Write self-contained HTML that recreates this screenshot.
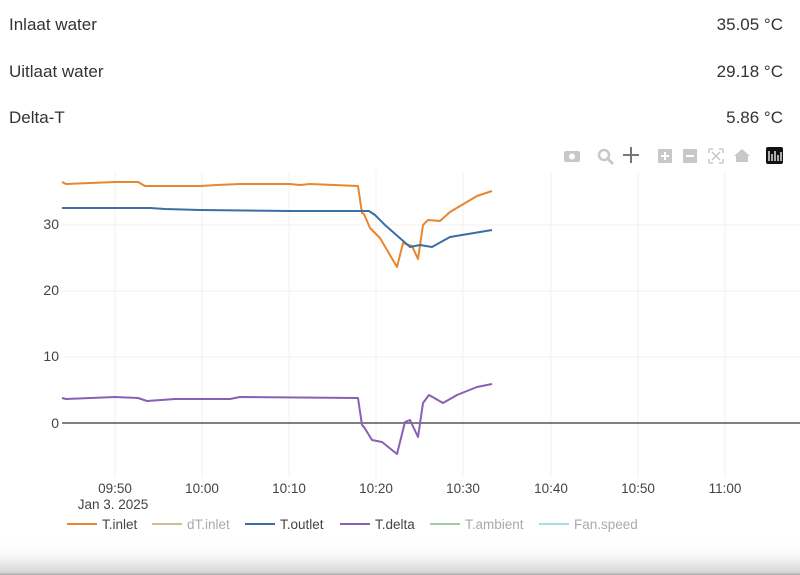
<!DOCTYPE html>
<html><head><meta charset="utf-8"><style>
body{margin:0;width:800px;height:575px;overflow:hidden;background:#fff;font-family:"Liberation Sans",sans-serif;position:relative}
.row{position:absolute;left:9px;right:17px;font-size:17px;color:#333;display:flex;justify-content:space-between}
.shadow{position:absolute;left:0;right:0;top:540px;height:35px;background:linear-gradient(#fff,#fafafa 40%,#d8d8d8 92%,#aaa)}
</style></head><body>
<div class="row" style="top:15px"><span>Inlaat water</span><span>35.05 °C</span></div>
<div class="row" style="top:62px"><span>Uitlaat water</span><span>29.18 °C</span></div>
<div class="row" style="top:108px"><span>Delta-T</span><span>5.86 °C</span></div>
<svg width="800" height="575" style="position:absolute;left:0;top:0" font-family="Liberation Sans, sans-serif">
<g stroke="#f0f0f0" stroke-width="1">
<line x1="115" y1="172" x2="115" y2="478"/><line x1="202" y1="172" x2="202" y2="478"/><line x1="289" y1="172" x2="289" y2="478"/><line x1="376" y1="172" x2="376" y2="478"/><line x1="463" y1="172" x2="463" y2="478"/><line x1="551" y1="172" x2="551" y2="478"/><line x1="638" y1="172" x2="638" y2="478"/><line x1="725" y1="172" x2="725" y2="478"/>
<line x1="62" y1="225" x2="800" y2="225"/><line x1="62" y1="291" x2="800" y2="291"/><line x1="62" y1="357" x2="800" y2="357"/>
</g>
<line x1="62" y1="423" x2="800" y2="423" stroke="#555" stroke-width="1.5"/>
<g font-size="14" fill="#444" text-anchor="end">
<text x="59" y="229">30</text><text x="59" y="295">20</text><text x="59" y="361">10</text><text x="59" y="428">0</text>
</g>
<g font-size="13.5" fill="#444" text-anchor="middle">
<text x="115" y="493">09:50</text><text x="202" y="493">10:00</text><text x="289" y="493">10:10</text><text x="376" y="493">10:20</text><text x="463" y="493">10:30</text><text x="551" y="493">10:40</text><text x="638" y="493">10:50</text><text x="725" y="493">11:00</text>
<text x="113" y="509">Jan 3. 2025</text>
</g>
<g fill="none" stroke-width="2" stroke-linejoin="round">
<polyline stroke="#e8862e" points="62,182 66,184 115,182 138,182 145,186 200,186 217,185 240,184 290,184 300,185 310,184 358,186 362,213 364,214 370,228 380,238 397,267 403,243 412,246 418,259 423,225 428,220 440,221 450,212 477,196 492,191"/>
<polyline stroke="#3a6ea5" points="62,208 150,208 165,209 200,210 290,211 369,211 375,215 385,225 410,247 420,245 432,247 450,237 492,230"/>
<polyline stroke="#8660b4" points="62,398 66,399 115,397 138,398 147,401 175,399 230,399 240,397 358,398 362,425 364,427 372,440 382,442 397,454 405,422 410,420 418,437 423,403 429,395 443,403 457,395 477,387 492,384"/>
</g>
<g font-size="13.5">
<line x1="67" y1="524" x2="97" y2="524" stroke="#e8862e" stroke-width="2"/><text x="102" y="529" fill="#444">T.inlet</text>
<line x1="152" y1="524" x2="182" y2="524" stroke="#d4b89a" stroke-width="2"/><text x="187" y="529" fill="#aaa">dT.inlet</text>
<line x1="245" y1="524" x2="275" y2="524" stroke="#3a6ea5" stroke-width="2"/><text x="280" y="529" fill="#444">T.outlet</text>
<line x1="340" y1="524" x2="370" y2="524" stroke="#8660b4" stroke-width="2"/><text x="375" y="529" fill="#444">T.delta</text>
<line x1="430" y1="524" x2="460" y2="524" stroke="#9fd09a" stroke-width="2"/><text x="465" y="529" fill="#aaa">T.ambient</text>
<line x1="539" y1="524" x2="569" y2="524" stroke="#a8dbe8" stroke-width="2"/><text x="574" y="529" fill="#aaa">Fan.speed</text>
</g>
<g fill="#c8c8c8">
<rect x="564" y="151" width="16" height="11" rx="2"/><circle cx="572" cy="156.5" r="3" fill="#fff"/>
<circle cx="604" cy="155" r="5" fill="none" stroke="#c8c8c8" stroke-width="2.5"/><line x1="608" y1="159" x2="613" y2="164" stroke="#c8c8c8" stroke-width="3"/>
<path d="M631 147v16M623 155h16" stroke="#777" stroke-width="2"/>
<rect x="658" y="149" width="14" height="14"/><path d="M661 156h8M665 152v8" stroke="#fff" stroke-width="2"/>
<rect x="683" y="149" width="14" height="14"/><path d="M686 156h8" stroke="#fff" stroke-width="2"/>
<path d="M709 149h4M709 149v4M723 149h-4M723 149v4M709 163h4M709 163v-4M723 163h-4M723 163v-4M712 152l8 8M720 152l-8 8" stroke="#c8c8c8" stroke-width="1.5" fill="none"/>
<path d="M734 156l8-7 8 7h-2v6h-12v-6z"/>
<rect x="766" y="147" width="17" height="17" rx="2" fill="#111"/><path d="M769 151v10M772 154v7M775 151v10M778 155v6M781 152v9" stroke="#fff" stroke-width="1.3"/>
</g>
</svg>
<div class="shadow"></div>
</body></html>
